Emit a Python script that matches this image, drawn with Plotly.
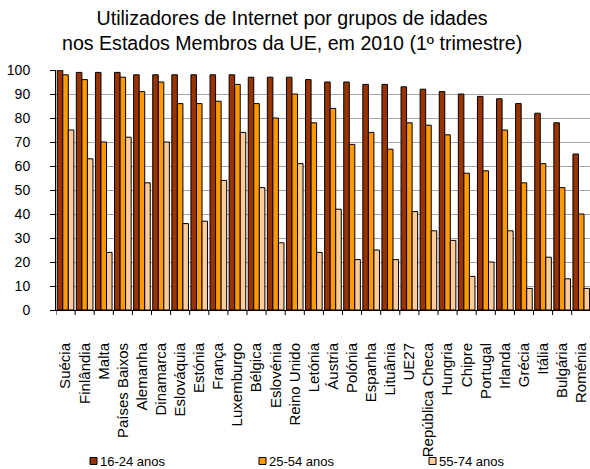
import plotly.graph_objects as go

countries = ["Suécia", "Finlândia", "Malta", "Países Baixos", "Alemanha", "Dinamarca",
             "Eslováquia", "Estónia", "França", "Luxemburgo", "Bélgica", "Eslovénia",
             "Reino Unido", "Letónia", "Áustria", "Polónia", "Espanha", "Lituânia", "UE27",
             "República Checa", "Hungria", "Chipre", "Portugal", "Irlanda", "Grécia",
             "Itália", "Bulgária", "Roménia"]

age_16_24 = [100, 99, 99, 99, 98, 98, 98, 98, 98, 98, 97, 97, 97, 96, 95, 95, 94, 94, 93,
             92, 91, 90, 89, 88, 86, 82, 78, 65]
age_25_54 = [98, 96, 70, 97, 91, 95, 86, 86, 87, 94, 86, 80, 90, 78, 84, 69, 74, 67, 78,
             77, 73, 57, 58, 75, 53, 61, 51, 40]
age_55_74 = [75, 63, 24, 72, 53, 70, 36, 37, 54, 74, 51, 28, 61, 24, 42, 21, 25, 21, 41,
             33, 29, 14, 20, 33, 9, 22, 13, 9]

series_names = ["16-24 anos", "25-54 anos", "55-74 anos"]
series_colors = ["#993300", "#FF9900", "#FFCC99"]
y_ticks = [0, 10, 20, 30, 40, 50, 60, 70, 80, 90, 100]
title_text = "Utilizadores de Internet por grupos de idades<br>nos Estados Membros da UE, em 2010 (1º trimestre)"

FONT = "Liberation Sans, Arial, sans-serif"
W, H = 590, 469
L, R, T, B = 56, 0, 70, 159
PW, PH = W - L - R, H - T - B

fig = go.Figure()
for name, vals, col in zip(series_names, [age_16_24, age_25_54, age_55_74], series_colors):
    fig.add_trace(go.Bar(
        x=list(range(len(countries))), y=vals, name=name,
        marker=dict(color=col, line=dict(color="#000000", width=1)),
    ))

fig.update_layout(
    width=W, height=H,
    margin=dict(l=L, r=R, t=T, b=B, pad=0),
    paper_bgcolor="white", plot_bgcolor="white",
    barmode="group", bargap=0.13, bargroupgap=0,
    showlegend=False,
    font=dict(family=FONT, color="#000000"),
)

# title as annotation (two lines)
fig.add_annotation(
    xref="paper", yref="paper",
    x=(291.5 - L) / PW, y=(T + PH - 5) / PH,
    text=title_text, showarrow=False, xanchor="center", yanchor="top",
    font=dict(family=FONT, size=19.6, color="#000000"),
)

fig.update_xaxes(
    range=[-0.5, -0.5 + PW / 19.1],
    tickmode="array", tickvals=list(range(len(countries))), ticktext=countries,
    tickangle=-90, tickfont=dict(size=15, family=FONT),
    showgrid=False, showline=True, linecolor="#000000", linewidth=1,
    ticks="", ticklabelstandoff=26,
)
fig.update_yaxes(
    range=[0, 100], tickmode="array", tickvals=y_ticks,
    tickfont=dict(size=14, family=FONT),
    showgrid=True, gridcolor="#a6a6a6", gridwidth=1,
    showline=True, linecolor="#000000", linewidth=1,
    ticks="outside", ticklen=5, tickcolor="#000000",
    ticklabelstandoff=17, zeroline=False,
)

# category boundary tick marks on the x axis
for i in range(len(countries) + 1):
    fig.add_shape(type="line", xref="x", yref="paper",
                  x0=i - 0.5, x1=i - 0.5, y0=0, y1=-5 / PH,
                  line=dict(color="#000000", width=1))

# legend drawn as squares + text
leg_sq_x = [90, 259, 429]
leg_y = 461
for name, col, sx in zip(series_names, series_colors, leg_sq_x):
    fig.add_shape(type="rect", xref="paper", yref="paper",
                  x0=(sx - L) / PW, x1=(sx + 7 - L) / PW,
                  y0=(T + PH - (leg_y - 3.5)) / PH, y1=(T + PH - (leg_y + 3.5)) / PH,
                  fillcolor=col, line=dict(color="#000000", width=1))
    fig.add_annotation(xref="paper", yref="paper", x=(sx + 8 - L) / PW,
                       y=(T + PH - leg_y) / PH, text=name, showarrow=False,
                       xanchor="left", yanchor="middle",
                       font=dict(size=13, color="#000000", family=FONT))

fig.write_html("out.html")
